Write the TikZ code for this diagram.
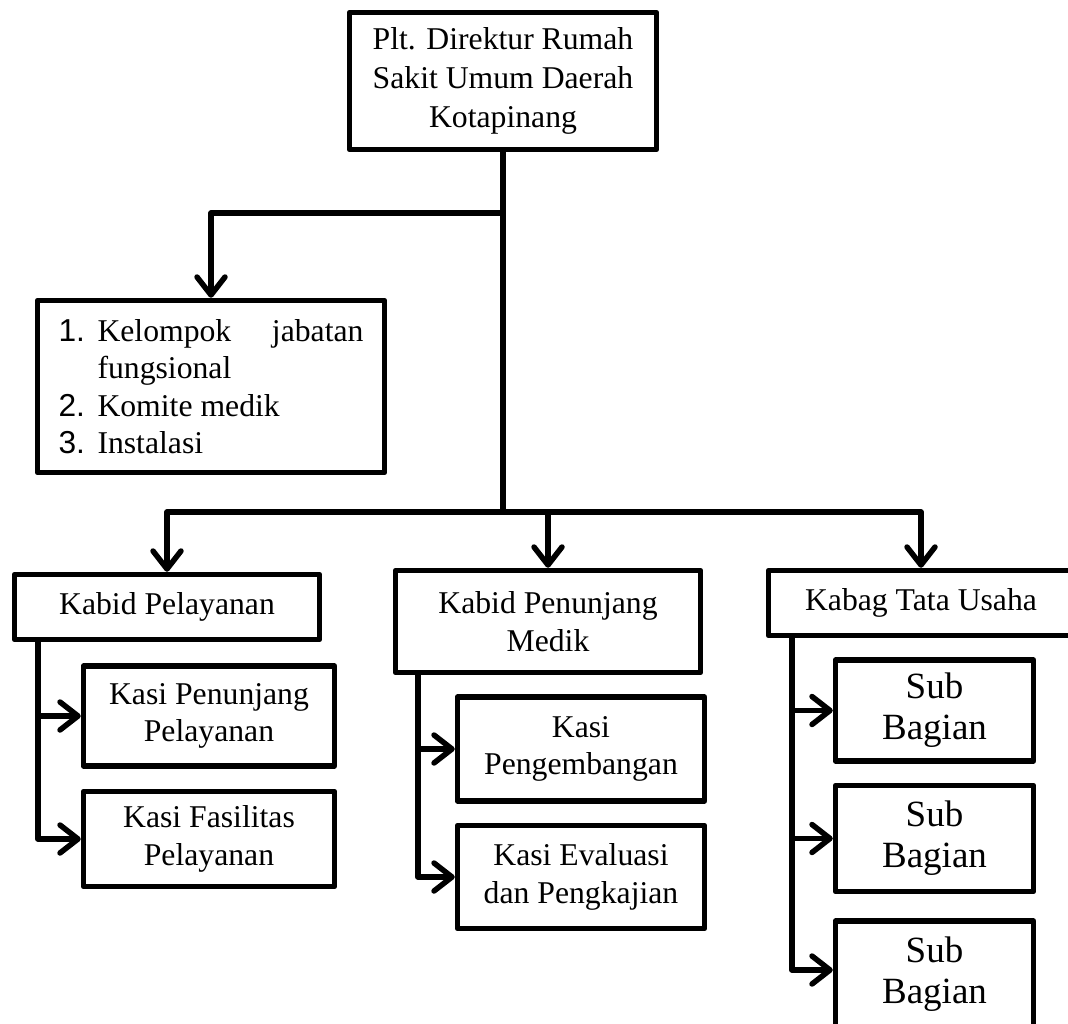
\documentclass[tikz,border=0pt]{standalone}
\usepackage{fontspec}
\setmainfont{Liberation Serif}
\setsansfont{Liberation Sans}
\usetikzlibrary{positioning}
\usetikzlibrary{arrows.meta}

\begin{document}
\begin{tikzpicture}[x=1pt, y=-1pt,
  orgbox/.style={draw, line width=5.5pt, line join=round, inner sep=4pt, align=center,
    font=\fontsize{31.7pt}{37.5pt}\selectfont},
  subbox/.style={orgbox, minimum width=198pt, font=\fontsize{37pt}{41pt}\selectfont},
  >={Straight Barb[length=18pt,width=28pt,round]},
  every path/.style={line width=5.5pt, line join=round}]

\useasboundingbox (0,0) rectangle (1068,1024);

\node[orgbox, minimum width=307pt, minimum height=137pt,
  font=\fontsize{31.7pt}{39pt}\selectfont] (dir) at (503,81)
  {Plt. Direktur Rumah\\Sakit Umum Daerah\\Kotapinang};

\node[orgbox, minimum width=347pt, minimum height=172pt, align=left] (list) at (211,386.5)
  {\makebox[39pt][l]{\sffamily 1.}\makebox[266pt][s]{Kelompok\hfill jabatan}\\
   \hspace*{39pt}fungsional\\
   \makebox[39pt][l]{\sffamily 2.}Komite medik\\
   \makebox[39pt][l]{\sffamily 3.}Instalasi};

\node[orgbox, minimum width=305pt, minimum height=65pt] (kpel) at (167,607) {Kabid Pelayanan};
\node[orgbox, minimum width=305pt, minimum height=102pt] (kpen) at (548,621.5) {Kabid Penunjang\\Medik};
\node[orgbox, minimum width=305pt, minimum height=65pt] (kabag) at (921,603) {Kabag Tata Usaha};

\node[orgbox, minimum width=251pt, minimum height=100pt, anchor=north west,
  below right=21pt and 69pt of kpel.south west] (kasi1) {Kasi Penunjang\\Pelayanan};
\node[orgbox, minimum width=251pt, minimum height=95pt, below=20pt of kasi1] (kasi2) {Kasi Fasilitas\\Pelayanan};

\node[orgbox, minimum width=247pt, minimum height=104pt, anchor=north west,
  below right=19pt and 62pt of kpen.south west] (kasi3) {Kasi\\Pengembangan};
\node[orgbox, minimum width=247pt, minimum height=103pt, below=19pt of kasi3] (kasi4) {Kasi Evaluasi\\dan Pengkajian};

\node[subbox, minimum height=101pt, anchor=north west,
  below right=19pt and 67pt of kabag.south west] (sub1) {Sub\\Bagian};
\node[subbox, minimum height=106pt, below=19pt of sub1] (sub2) {Sub\\Bagian};
\node[subbox, minimum height=106pt, below=24pt of sub2] (sub3) {Sub\\Bagian};

\coordinate (split) at (503,213);
\coordinate (hub) at (503,512);

\draw (dir) -- (hub);
\draw[->] (split) -| (list.north);
\draw[->] (hub) -| (kpel.north);
\draw[->] (hub) -| (kabag.north);
\draw[->] (hub -| kpen.north) -- (kpen.north);

\draw[->] ([xshift=26pt]kpel.south west) |- (kasi1.west);
\draw[->] ([xshift=26pt]kpel.south west) |- (kasi2.west);

\draw[->] ([xshift=25pt]kpen.south west) |- (kasi3.west);
\draw[->] ([xshift=25pt]kpen.south west) |- (kasi4.west);

\draw[->] ([xshift=26pt]kabag.south west) |- (sub1.west);
\draw[->] ([xshift=26pt]kabag.south west) |- (sub2.west);
\draw[->] ([xshift=26pt]kabag.south west) |- ([yshift=4pt]sub3.west);

\end{tikzpicture}
\end{document}
